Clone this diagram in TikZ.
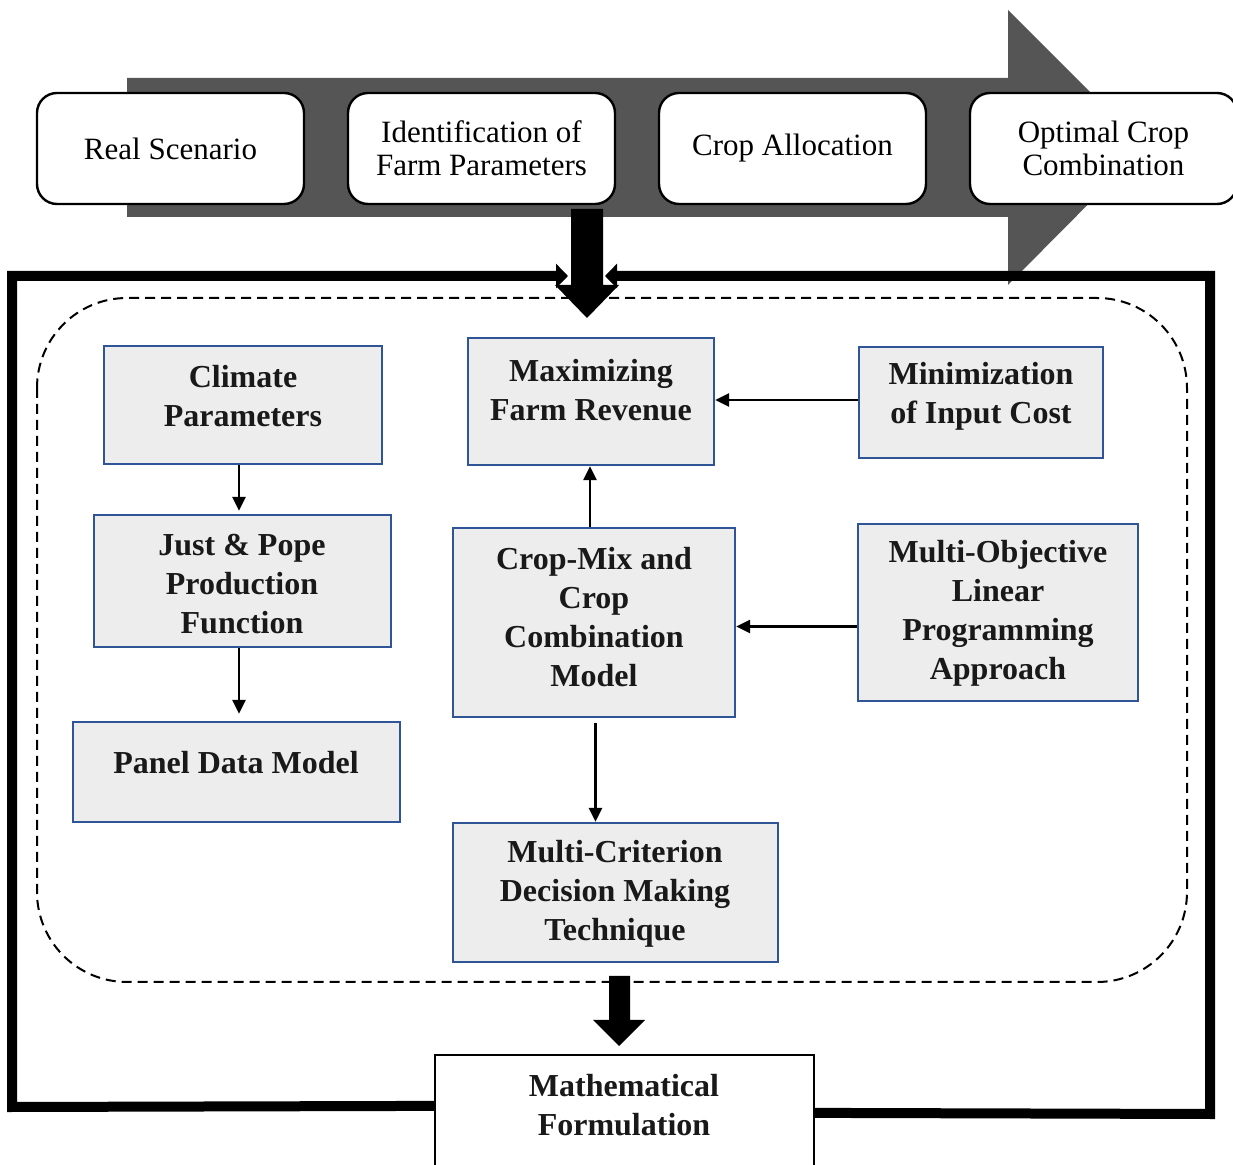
\documentclass[tikz,border=0pt]{standalone}
\usepackage{fontspec}
\setmainfont{Liberation Serif}
\usetikzlibrary{arrows.meta}
\definecolor{greyarrow}{RGB}{85,85,85}
\definecolor{boxblue}{RGB}{47,85,151}
\definecolor{boxfill}{RGB}{237,237,237}
\begin{document}
\begin{tikzpicture}[x=0.5pt,y=-0.5pt,
  topbox/.style={draw=black, line width=1.2pt, fill=white, rounded corners=10pt,
    minimum width=133.5pt, minimum height=55.5pt, align=center, inner sep=0pt,
    font=\fontsize{15.5}{16.5}\selectfont},
  inbox/.style={draw=boxblue, line width=1.2pt, fill=boxfill, inner sep=0pt},
  mathbox/.style={draw=black, line width=1.1pt, fill=white, inner sep=0pt},
  intext/.style={align=center, inner sep=0pt, text=black!90,
    font=\fontsize{16}{19.5}\selectfont\bfseries},
  arr/.style={line width=1.25pt, -{Triangle[length=7pt,width=6.5pt]}},
  frameline/.style={line width=5pt, line join=miter, -{Triangle[length=6pt,width=12pt]}},
  dashedframe/.style={line width=1pt, dash pattern=on 5pt off 3pt, rounded corners=45pt},
  blockarrow/.style={fill=black}
]
\useasboundingbox (0,0) rectangle (1233,1165);

% grey process arrow
\fill[greyarrow] (127,78) -- (1008,78) -- (1008,10) -- (1145,147) -- (1008,285)
  -- (1008,217) -- (127,217) -- cycle;

% top boxes
\node[topbox] (real) at (170.5,148.5) {Real Scenario};
\node[topbox] (ident) at (481.5,148.5) {Identification of\\Farm Parameters};
\node[topbox] (alloc) at (792.5,148.5) {Crop Allocation};
\node[topbox] (optim) at (1103.5,148.5) {Optimal Crop\\Combination};

% bottom box
\node[mathbox, minimum width=189.5pt, minimum height=65pt] (math) at (624.5,1120) {};
\node[intext] (mathT) at (624,1105) {Mathematical\\Formulation};

% feedback frame
\coordinate (fL) at (568,276);
\coordinate (fR) at (605,276);
\draw[frameline] ([yshift=-26pt]math.north west) -- (12,1107) -- (12,276) -- (fL);
\draw[frameline] ([yshift=-29.5pt]math.north east) -- (1210,1114) -- (1210,276) -- (fR);

% dashed region
\draw[dashedframe] (37,298) rectangle (1187,982);

% block arrows
\fill[blockarrow] (571,209) -- (603,209) -- (603,285) -- (619,285) -- (587,318)
  -- (555,285) -- (571,285) -- cycle;
\fill[blockarrow] (609,976) -- (630,976) -- (630,1020) -- (645,1020) -- (619,1046)
  -- (593,1020) -- (609,1020) -- cycle;

% inner boxes
\node[inbox, minimum width=139pt, minimum height=59pt] (clim) at (243,405) {};
\node[intext] (climT) at (243,396) {Climate\\Parameters};

\node[inbox, minimum width=148.5pt, minimum height=66pt] (jp) at (242.5,581) {};
\node[intext] (jpT) at (242,584.5) {Just \& Pope\\Production\\Function};

\node[inbox, minimum width=163.5pt, minimum height=50pt] (panel) at (236.5,772) {};
\node[intext] (panelT) at (236,763) {Panel Data Model};

\node[inbox, minimum width=123pt, minimum height=63.5pt] (maxr) at (591,401.5) {};
\node[intext] (maxrT) at (591,390.5) {Maximizing\\Farm Revenue};

\node[inbox, minimum width=122pt, minimum height=55.5pt] (minc) at (981,402.5) {};
\node[intext] (mincT) at (981,396.5) {Minimization\\of Input Cost};

\node[inbox, minimum width=141pt, minimum height=94.5pt] (cmix) at (594,622.5) {};
\node[intext] (cmixT) at (594,617) {Crop-Mix and\\Crop\\Combination\\Model};

\node[inbox, minimum width=140pt, minimum height=88.5pt] (molp) at (998,612.5) {};
\node[intext] (molpT) at (998,613.5) {Multi-Objective\\Linear\\Programming\\Approach};

\node[inbox, minimum width=162.5pt, minimum height=69.5pt] (mcdm) at (615.5,892.5) {};
\node[intext] (mcdmT) at (615,894) {Multi-Criterion\\Decision Making\\Technique};

% connectors
\draw[arr, shorten >=1.5pt] ([xshift=-2pt]clim.south) -- ([xshift=-1.75pt]jp.north);
\draw[arr, shorten >=3.5pt] ([xshift=-1.75pt]jp.south) -- ([xshift=1.25pt]panel.north);
\draw[arr] ([xshift=-2pt]cmix.north) -- ([xshift=-0.5pt]maxr.south);
\draw[arr] ([yshift=1.25pt]minc.west) -- ([yshift=0.75pt]maxr.east);
\draw[arr] ([yshift=-7pt]molp.west) -- ([yshift=-2pt]cmix.east);
\draw[arr, shorten <=2.5pt] ([xshift=0.75pt]cmix.south) -- ([xshift=-10pt]mcdm.north);
\end{tikzpicture}
\end{document}
